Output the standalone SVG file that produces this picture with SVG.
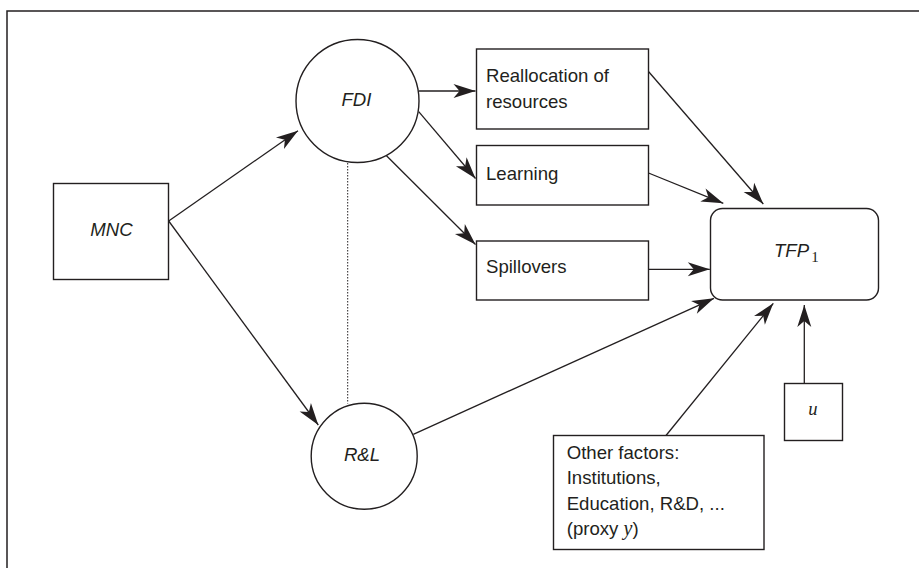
<svg xmlns="http://www.w3.org/2000/svg" width="919" height="568" viewBox="0 0 919 568">
<style>
.box{fill:#fff;stroke:#231f20;stroke-width:1.4}
.edge{fill:none;stroke:#231f20;stroke-width:1.3}
.dot{fill:none;stroke:#231f20;stroke-width:1;stroke-dasharray:1.5 1.5}
.t{font-family:"Liberation Sans",Arial,sans-serif;font-size:18.6px;fill:#231f20}
.i{font-style:italic}
.s{font-family:"Liberation Serif","Times New Roman",serif;font-style:italic}
.sub{font-family:"Liberation Serif","Times New Roman",serif;font-style:normal;font-size:15px}
</style>
<defs>
<marker id="ah" markerUnits="userSpaceOnUse" markerWidth="24" markerHeight="16" viewBox="-23 -8 24 16" refX="0" refY="0" orient="auto">
<path d="M0,0 L-22,-7 L-16,0 L-22,7 Z" fill="#231f20"/>
</marker>
</defs>
<rect x="7" y="11" width="940" height="600" fill="none" stroke="#231f20" stroke-width="1.5"/>
<g id="connectors">
<line class="edge" x1="168.7" y1="221" x2="298" y2="130.7" marker-end="url(#ah)"/>
<line class="edge" x1="168.7" y1="221" x2="318.3" y2="425" marker-end="url(#ah)"/>
<line class="edge" x1="419" y1="91" x2="475.5" y2="91" marker-end="url(#ah)"/>
<line class="edge" x1="418.7" y1="111.7" x2="475.5" y2="178.5" marker-end="url(#ah)"/>
<line class="edge" x1="386" y1="155.3" x2="475.5" y2="244.5" marker-end="url(#ah)"/>
<line class="edge" x1="648.7" y1="71.7" x2="763.3" y2="204" marker-end="url(#ah)"/>
<line class="edge" x1="648.5" y1="173" x2="723.3" y2="203.3" marker-end="url(#ah)"/>
<line class="edge" x1="648.7" y1="269.3" x2="709.8" y2="269.3" marker-end="url(#ah)"/>
<line class="edge" x1="413.3" y1="434.3" x2="714" y2="298.3" marker-end="url(#ah)"/>
<line class="edge" x1="666" y1="435.5" x2="773.3" y2="303.3" marker-end="url(#ah)"/>
<line class="edge" x1="804.3" y1="383.5" x2="804.3" y2="305" marker-end="url(#ah)"/>
<line class="dot" x1="347.7" y1="163" x2="347.7" y2="403.5"/>
</g>
<g id="mnc">
<rect class="box" x="53.5" y="183.5" width="115" height="96"/>
<text class="t i" x="111.5" y="235.5" text-anchor="middle">MNC</text>
</g>
<g id="fdi">
<circle class="box" cx="357.5" cy="101" r="61.5"/>
<text class="t i" x="356.5" y="106" text-anchor="middle">FDI</text>
</g>
<g id="rl">
<circle class="box" cx="364.2" cy="456.3" r="53"/>
<text class="t i" x="362" y="460.7" text-anchor="middle">R&amp;L</text>
</g>
<g id="reallocation">
<rect class="box" x="476.5" y="49" width="172" height="80"/>
<text class="t" x="486" y="82.3">Reallocation of</text>
<text class="t" x="486" y="108.3">resources</text>
</g>
<g id="learning">
<rect class="box" x="476.5" y="145.5" width="172" height="59.5"/>
<text class="t" x="486" y="180">Learning</text>
</g>
<g id="spillovers">
<rect class="box" x="476.5" y="241" width="172" height="59"/>
<text class="t" x="486" y="273">Spillovers</text>
</g>
<g id="tfp">
<rect class="box" x="710.5" y="208.5" width="168" height="91.5" rx="12" ry="12"/>
<text class="t" x="774" y="256.7"><tspan class="i">TFP</tspan><tspan class="sub" dy="5" dx="2">1</tspan></text>
</g>
<g id="u">
<rect class="box" x="784.5" y="383.5" width="58" height="57"/>
<text class="t s" x="813" y="415" text-anchor="middle" font-size="20">u</text>
</g>
<g id="other">
<rect class="box" x="553.5" y="435.5" width="210.5" height="114"/>
<text class="t" x="566.7" y="458.5">Other factors:</text>
<text class="t" x="566.7" y="484">Institutions,</text>
<text class="t" x="566.7" y="509.5">Education, R&amp;D, ...</text>
<text class="t" x="566.7" y="535">(proxy <tspan class="s" font-size="20">y</tspan>)</text>
</g>
</svg>
